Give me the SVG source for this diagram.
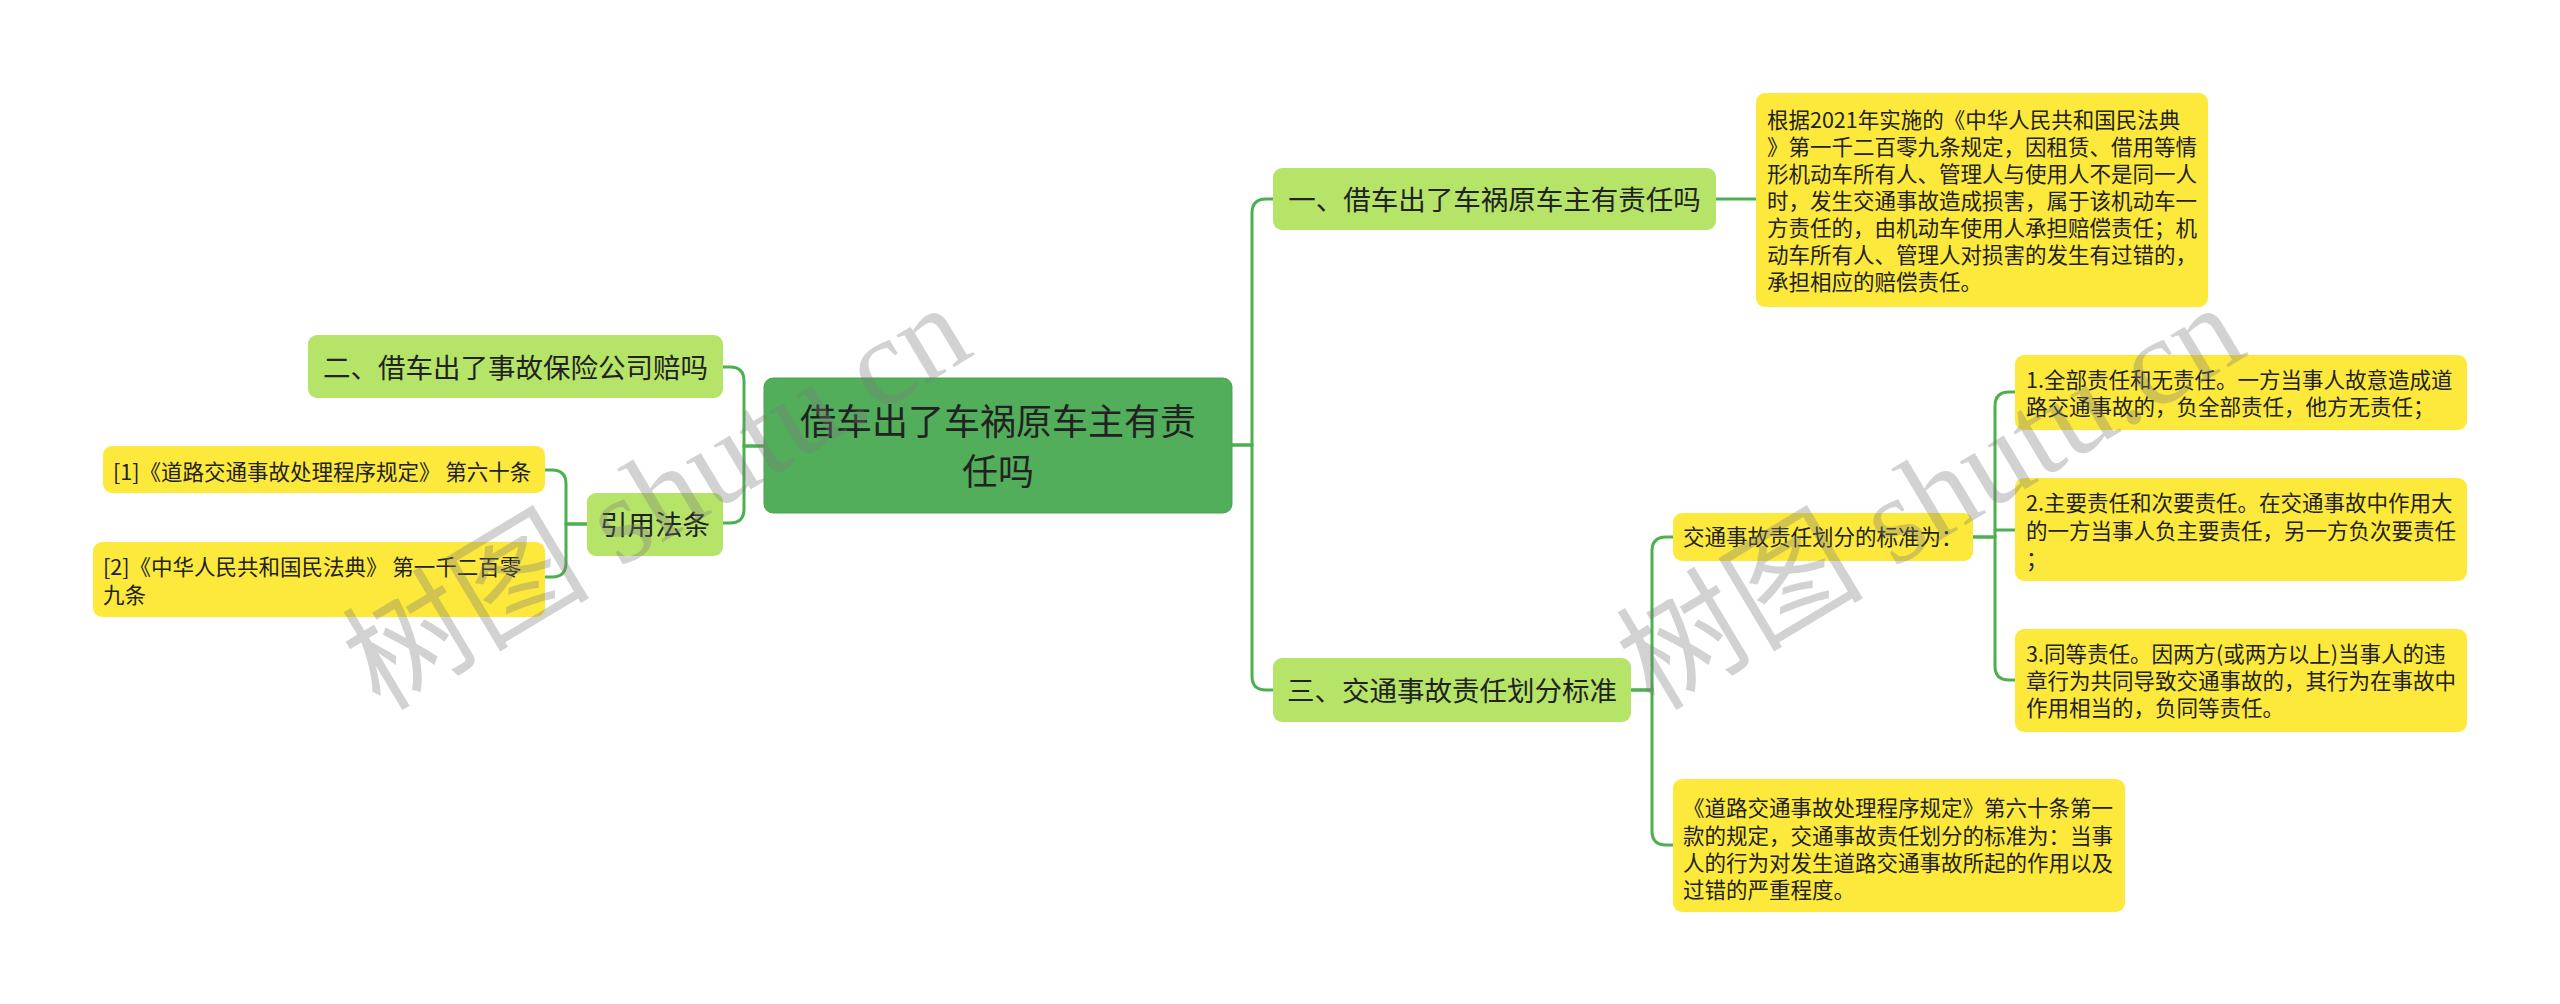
<svg xmlns="http://www.w3.org/2000/svg" width="2560" height="1004" viewBox="0 0 2560 1004">
<style>
text{font-family:"Noto Sans CJK SC","Noto Sans",sans-serif;fill:#222}
.root{fill:#52ae5a;stroke:#4aa352;stroke-width:1}
.l1{fill:#b6e468}
.leaf{fill:#fde93b}
.t36{font-size:36px}
.t27{font-size:27.5px}
.t21{font-size:21.5px}
.mid{text-anchor:middle}
.conn path{fill:none;stroke:#4caf50;stroke-width:3;stroke-linecap:round}
.wm{font-family:"Liberation Serif","Noto Sans CJK SC",serif;font-size:124px;fill:#7a7a7a;fill-opacity:0.34}
</style>
<rect width="2560" height="1004" fill="#ffffff"/>
<g class="conn" id="connectors">
<path d="M1232 445 H1252 V213 Q1252 199 1266 199 H1273"/>
<path d="M1232 445 H1252 V676 Q1252 690 1266 690 H1273"/>
<path d="M1716 199 H1756"/>
<path d="M1631 690 H1652 V551 Q1652 537 1666 537 H1673"/>
<path d="M1631 690 H1652 V831 Q1652 845 1666 845 H1673"/>
<path d="M1973 537 H1995 V406 Q1995 392 2009 392 H2015"/>
<path d="M1995 530 H2015"/>
<path d="M1973 537 H1995 V666 Q1995 680 2009 680 H2015"/>
<path d="M764 446 H744 V381 Q744 367 730 367 H723"/>
<path d="M764 446 H744 V509 Q744 523 730 523 H723"/>
<path d="M587 524 H566 V484 Q566 470 552 470 H545"/>
<path d="M587 524 H566 V563 Q566 577 552 577 H545"/>
</g>
<g id="root">
<rect class="root" x="764" y="378" width="468" height="135" rx="9"/>
<text class="t36 mid" x="998" y="435">借车出了车祸原车主有责</text>
<text class="t36 mid" x="998" y="485">任吗</text>
</g>
<g id="node1">
<rect class="l1" x="1273" y="168" width="443" height="62" rx="9"/>
<text class="t27 mid" x="1494.5" y="209.5">一、借车出了车祸原车主有责任吗</text>
</g>
<g id="node1-detail">
<rect class="leaf" x="1756" y="93" width="452" height="214" rx="9"/>
<text class="t21" x="1767" y="128">根据2021年实施的《中华人民共和国民法典</text>
<text class="t21" x="1767" y="155">》第一千二百零九条规定，因租赁、借用等情</text>
<text class="t21" x="1767" y="182">形机动车所有人、管理人与使用人不是同一人</text>
<text class="t21" x="1767" y="209">时，发生交通事故造成损害，属于该机动车一</text>
<text class="t21" x="1767" y="236">方责任的，由机动车使用人承担赔偿责任；机</text>
<text class="t21" x="1767" y="263">动车所有人、管理人对损害的发生有过错的，</text>
<text class="t21" x="1767" y="290">承担相应的赔偿责任。</text>
</g>
<g id="node3">
<rect class="l1" x="1273" y="658" width="358" height="64" rx="9"/>
<text class="t27 mid" x="1452" y="700.5">三、交通事故责任划分标准</text>
</g>
<g id="node3-standard">
<rect class="leaf" x="1673" y="513" width="300" height="48" rx="9"/>
<text class="t21" x="1683" y="545">交通事故责任划分的标准为：</text>
</g>
<g id="std-1">
<rect class="leaf" x="2015" y="355" width="452" height="75" rx="9"/>
<text class="t21" x="2026" y="388">1.全部责任和无责任。一方当事人故意造成道</text>
<text class="t21" x="2026" y="415">路交通事故的，负全部责任，他方无责任；</text>
</g>
<g id="std-2">
<rect class="leaf" x="2015" y="478" width="452" height="103" rx="9"/>
<text class="t21" x="2026" y="511">2.主要责任和次要责任。在交通事故中作用大</text>
<text class="t21" x="2026" y="539">的一方当事人负主要责任，另一方负次要责任</text>
<text class="t21" x="2026" y="567">；</text>
</g>
<g id="std-3">
<rect class="leaf" x="2015" y="629" width="452" height="103" rx="9"/>
<text class="t21" x="2026" y="662">3.同等责任。因两方(或两方以上)当事人的违</text>
<text class="t21" x="2026" y="689">章行为共同导致交通事故的，其行为在事故中</text>
<text class="t21" x="2026" y="716">作用相当的，负同等责任。</text>
</g>
<g id="node3-law">
<rect class="leaf" x="1673" y="779" width="452" height="133" rx="9"/>
<text class="t21" x="1683" y="816">《道路交通事故处理程序规定》第六十条第一</text>
<text class="t21" x="1683" y="844">款的规定，交通事故责任划分的标准为：当事</text>
<text class="t21" x="1683" y="871">人的行为对发生道路交通事故所起的作用以及</text>
<text class="t21" x="1683" y="898">过错的严重程度。</text>
</g>
<g id="node2">
<rect class="l1" x="308" y="335" width="415" height="63" rx="9"/>
<text class="t27 mid" x="515.5" y="377.5">二、借车出了事故保险公司赔吗</text>
</g>
<g id="node-cite">
<rect class="l1" x="587" y="493" width="136" height="63" rx="9"/>
<text class="t27 mid" x="655" y="535">引用法条</text>
</g>
<g id="cite-1">
<rect class="leaf" x="103" y="446" width="442" height="47" rx="9"/>
<text class="t21" x="113" y="480">[1]《道路交通事故处理程序规定》 第六十条</text>
</g>
<g id="cite-2">
<rect class="leaf" x="93" y="542" width="452" height="75" rx="9"/>
<text class="t21" x="103" y="575">[2]《中华人民共和国民法典》 第一千二百零</text>
<text class="t21" x="103" y="603">九条</text>
</g>
<g id="watermarks">
<text class="wm" transform="translate(380 712) rotate(-31)">树图 shutu.cn</text>
<text class="wm" transform="translate(1654 712) rotate(-31)">树图 shutu.cn</text>
</g>
</svg>
